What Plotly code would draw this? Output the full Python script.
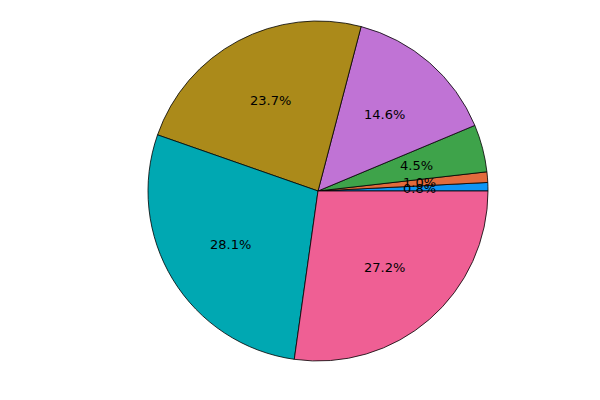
import math
import plotly.graph_objects as go

labels = ["A", "B", "C", "D", "E", "F", "G"]
values = [0.8, 1.0, 4.5, 14.6, 23.7, 28.1, 27.2]
colors = ["#0e95f5", "#e26b3d", "#3ea34a", "#c073d5", "#ab8a1a", "#00a8b2", "#ef5f94"]

W, H = 600, 400
cx, cy, r = 318, 191, 170

total = sum(values)
fig = go.Figure(go.Pie(
    labels=labels, values=values, sort=False,
    direction="counterclockwise", rotation=90 - values[0] / total * 360,
    marker=dict(colors=colors, line=dict(color="black", width=0.8)),
    textinfo="none", hoverinfo="label+percent", showlegend=False,
    domain=dict(x=[(cx - r) / W, (cx + r) / W], y=[1 - (cy + r) / H, 1 - (cy - r) / H]),
))

cum = 0.0
for v in values:
    mid = (cum + v / 2) / total * 2 * math.pi
    cum += v
    px = cx + 0.6 * r * math.cos(mid)
    py = cy - 0.6 * r * math.sin(mid)
    fig.add_annotation(x=px / W, y=1 - py / H, xref="paper", yref="paper",
                       xanchor="center", yanchor="middle",
                       text=f"{v:.1f}%", showarrow=False,
                       font=dict(family="DejaVu Sans", size=13, color="black"))

fig.update_layout(width=W, height=H, margin=dict(l=0, r=0, t=0, b=0),
                  paper_bgcolor="white", plot_bgcolor="white")
fig.write_html("out.html", config={"displayModeBar": False},
               post_script="document.body.style.margin='0';")
